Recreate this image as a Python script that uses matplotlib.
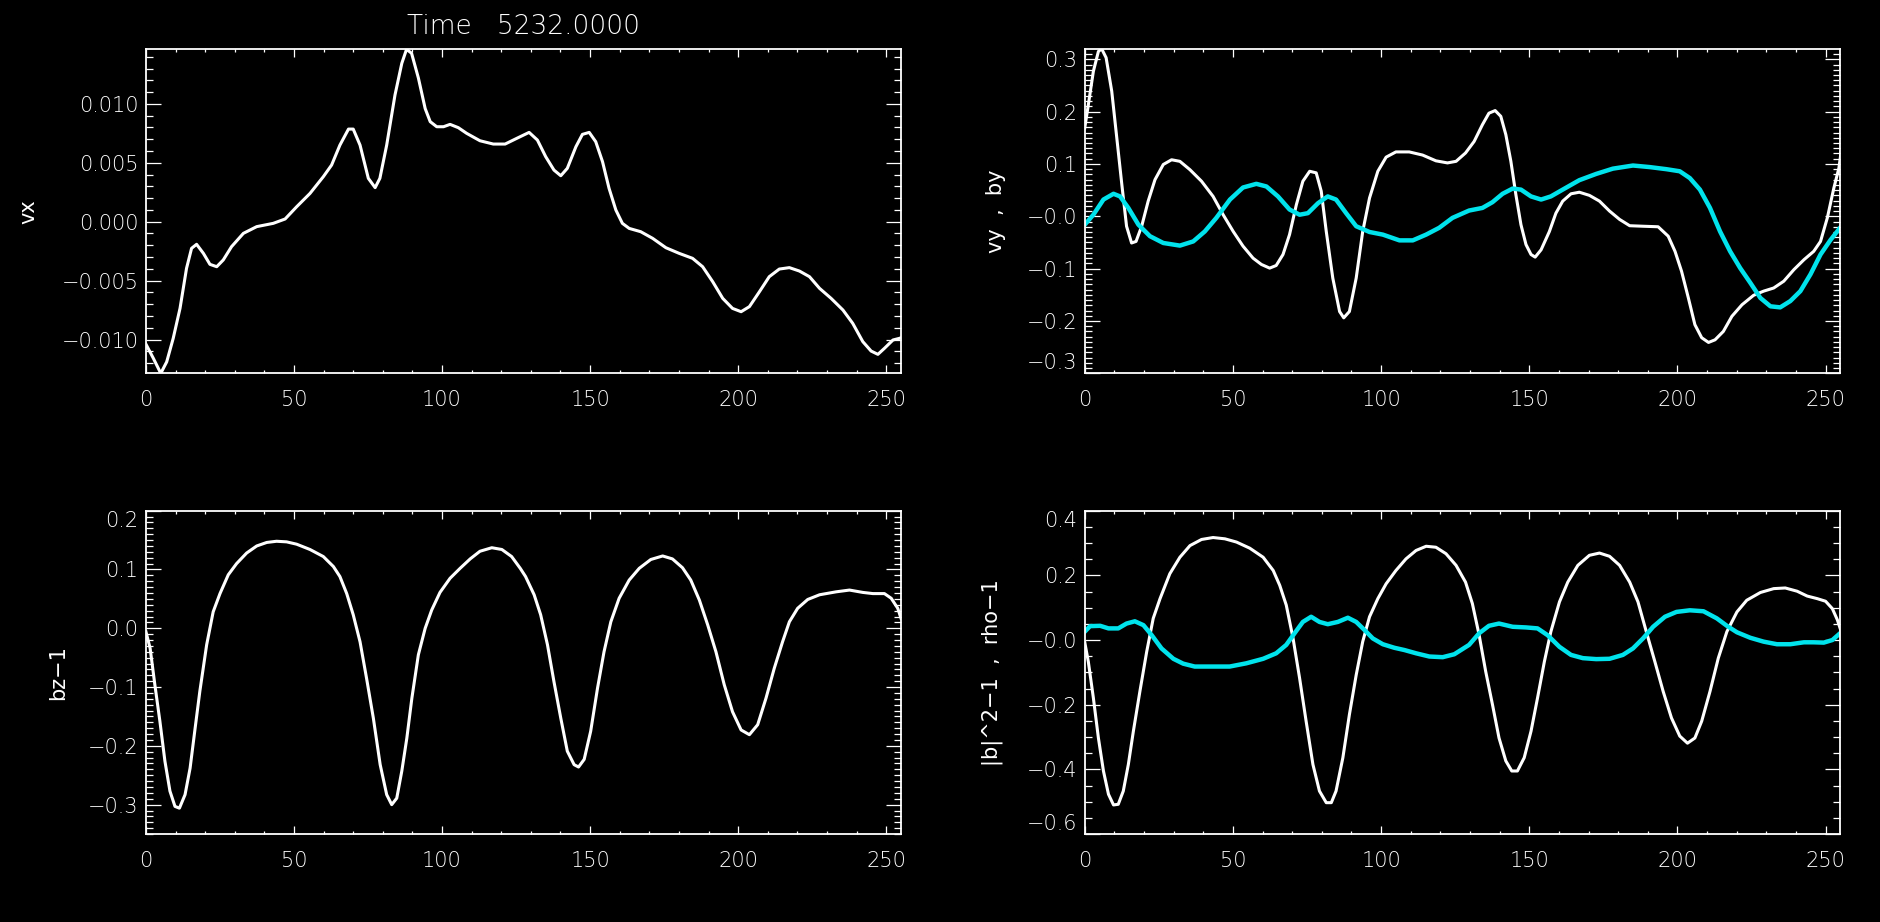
import numpy as np
import matplotlib
matplotlib.use("Agg")
import matplotlib.pyplot as plt
from matplotlib.ticker import MultipleLocator

# vx (top left), values in units of 1e-3
vx_x = [0, 2.5, 5, 7, 9.2, 11.5, 13.7, 15.4, 17.1, 19.4, 21.6, 23.9, 26.1, 28.9, 32.9, 37.4, 43, 47,
        50.9, 55.4, 59.9, 62.7, 65.5, 68.4, 70, 72.3, 75.1, 77.4, 79, 81.3, 84.1, 86.4, 88, 89.7, 92,
        94.3, 96, 98.2, 100.5, 102.7, 105.5, 108.3, 112.8, 117.3, 121.3, 125.2, 129.4, 132.2, 135,
        137.8, 140.1, 142.3, 145.2, 147.4, 149.7, 151.9, 154.2, 156.4, 158.7, 160.9, 163.2, 167.1,
        171.1, 175.6, 180.1, 184.6, 188, 191.4, 194.8, 198.1, 201, 203.8, 207.2, 210.5, 213.9, 217.3,
        220.7, 224.1, 227.5, 231.4, 235.4, 238.7, 242.1, 244.9, 247.2, 249.4, 252.3, 254.5, 255]
vx_y = [-10.4, -11.6, -12.87, -11.9, -9.9, -7.36, -3.96, -2.26, -1.92, -2.69, -3.62, -3.82, -3.25,
        -2.12, -0.99, -0.42, -0.14, 0.23, 1.27, 2.4, 3.82, 4.81, 6.5, 7.86, 7.86, 6.5, 3.68, 2.89,
        3.68, 6.5, 10.75, 13.44, 14.63, 14.3, 12.2, 9.6, 8.49, 8.06, 8.06, 8.26, 7.98, 7.5, 6.87,
        6.59, 6.59, 7.07, 7.58, 6.93, 5.52, 4.38, 3.9, 4.53, 6.36, 7.41, 7.58, 6.79, 5.09, 2.83,
        0.99, -0.14, -0.57, -0.85, -1.41, -2.21, -2.69, -3.11, -3.82, -5.09, -6.51, -7.36, -7.64,
        -7.21, -5.94, -4.67, -4.02, -3.9, -4.19, -4.67, -5.66, -6.51, -7.5, -8.63, -10.18, -10.98,
        -11.26, -10.75, -10.04, -9.9, -9.85]

# vy (top right, white)
vy_x = [0, 1.2, 2.9, 4.6, 5.7, 7.2, 9.1, 10.8, 12.5, 14.1, 15.8, 17.3, 19.2, 21.4, 23.7, 26.5, 29.3,
        32.1, 35.5, 39.4, 43.3, 46.7, 50.1, 53.4, 56.8, 59.6, 62.4, 64.6, 66.9, 69.1, 71.4, 73.6, 75.9,
        78.1, 79.8, 81.5, 83.7, 86, 87.4, 89.3, 91.6, 93.8, 96.1, 98.9, 101.7, 105, 109.5, 114, 118.5,
        122.4, 125.3, 128.5, 131.4, 134.2, 136.4, 138.5, 140.4, 142.1, 143.8, 145.5, 147.2, 148.9,
        150.6, 152, 154, 156.8, 159, 161.3, 164.1, 166.9, 170.3, 173.7, 177.1, 180.5, 183.9, 188.4,
        193.5, 196.9, 199.2, 201.4, 203.7, 205.9, 208.2, 210.5, 212.7, 215.5, 218.4, 221.8, 225.7,
        229.1, 232.5, 235.9, 239.3, 242.7, 246, 248.3, 250.6, 252.8, 254.5, 255.2]
vy_y = [0.169, 0.213, 0.277, 0.315, 0.32, 0.303, 0.239, 0.15, 0.061, -0.019, -0.051, -0.048, -0.019,
        0.029, 0.07, 0.099, 0.108, 0.105, 0.089, 0.067, 0.038, 0.003, -0.029, -0.057, -0.08, -0.092,
        -0.099, -0.094, -0.073, -0.035, 0.022, 0.067, 0.086, 0.083, 0.048, -0.029, -0.118, -0.182,
        -0.194, -0.182, -0.118, -0.029, 0.035, 0.086, 0.113, 0.123, 0.123, 0.117, 0.106, 0.102, 0.105,
        0.121, 0.143, 0.175, 0.197, 0.202, 0.191, 0.156, 0.105, 0.041, -0.016, -0.054, -0.073, -0.078,
        -0.064, -0.029, 0.006, 0.029, 0.043, 0.046, 0.04, 0.029, 0.01, -0.006, -0.018, -0.019, -0.02,
        -0.038, -0.067, -0.105, -0.156, -0.207, -0.232, -0.241, -0.236, -0.22, -0.191, -0.169, -0.151,
        -0.143, -0.137, -0.124, -0.102, -0.083, -0.067, -0.048, -0.003, 0.054, 0.092, 0.121]

# by (top right, cyan)
by_x = [0, 2.9, 6.3, 9.7, 11.9, 14.7, 18.1, 22, 26.5, 32.1, 36.6, 40.5, 44.4, 49, 53.4, 57.9, 61.3,
        65.2, 69.1, 72.5, 75.3, 78.7, 82, 84.8, 88.2, 91.6, 96.1, 100.6, 106.2, 110.7, 115.2, 119.6,
        124.1, 129.7, 134.2, 137.6, 141, 144.4, 147.2, 150.6, 154, 157.3, 161.3, 166.9, 172.6, 178.2,
        185, 190.7, 196.3, 200.8, 204.2, 207.6, 211, 214.4, 217.8, 221.2, 224.6, 228, 231.4, 234.7,
        238.1, 241.5, 244.9, 248.3, 251.7, 254.9]
by_y = [-0.016, 0.003, 0.032, 0.043, 0.038, 0.016, -0.016, -0.038, -0.051, -0.056, -0.048, -0.029,
        -0.003, 0.032, 0.055, 0.062, 0.057, 0.038, 0.013, 0.003, 0.006, 0.025, 0.038, 0.032, 0.006,
        -0.019, -0.03, -0.035, -0.046, -0.046, -0.035, -0.022, -0.003, 0.011, 0.016, 0.027, 0.043,
        0.053, 0.051, 0.038, 0.032, 0.038, 0.051, 0.069, 0.081, 0.091, 0.097, 0.094, 0.09, 0.086,
        0.073, 0.051, 0.016, -0.029, -0.067, -0.099, -0.127, -0.156, -0.172, -0.174, -0.162, -0.143,
        -0.111, -0.073, -0.045, -0.022]

# bz-1 (bottom left)
bz_x = [0, 1.4, 3, 4.7, 6.4, 8.1, 9.8, 11.3, 13.2, 14.9, 16.6, 18.2, 20.5, 22.7, 25, 27.8, 30.6, 34,
        37.4, 40.8, 44.1, 47.5, 50.9, 55.4, 59.9, 63.3, 65.5, 67.8, 70, 72.3, 74.5, 76.8, 79.1, 81.3,
        83, 84.7, 86.4, 88.1, 89.8, 92, 94.3, 96.5, 99.3, 102.7, 106.1, 109.5, 112.8, 116.8, 120.2,
        123.5, 126.4, 128.2, 131.1, 133.3, 135.6, 137.8, 140.1, 142.3, 144.6, 146.1, 148, 150.2, 152.5,
        154.7, 157, 159.8, 163.2, 166.6, 170.5, 174.5, 177.8, 181.2, 184, 186.9, 189.7, 192.5, 195.3,
        198.1, 201, 203.8, 206.6, 209.4, 212.2, 215, 217.3, 220.1, 223.5, 227.5, 233.1, 237.6, 242.1,
        245.5, 249.4, 251.7, 253.9, 255]
bz_y = [-0.006, -0.034, -0.096, -0.158, -0.226, -0.277, -0.303, -0.306, -0.283, -0.238, -0.17, -0.107,
        -0.028, 0.028, 0.059, 0.091, 0.11, 0.128, 0.14, 0.146, 0.148, 0.147, 0.143, 0.134, 0.122, 0.105,
        0.088, 0.059, 0.023, -0.023, -0.085, -0.153, -0.232, -0.283, -0.3, -0.289, -0.243, -0.187,
        -0.119, -0.045, 0.0, 0.031, 0.061, 0.085, 0.102, 0.118, 0.131, 0.137, 0.134, 0.122, 0.102,
        0.088, 0.057, 0.023, -0.028, -0.091, -0.153, -0.209, -0.232, -0.236, -0.223, -0.175, -0.102,
        -0.04, 0.011, 0.051, 0.082, 0.102, 0.117, 0.123, 0.118, 0.103, 0.082, 0.048, 0.006, -0.04,
        -0.096, -0.142, -0.173, -0.181, -0.164, -0.119, -0.068, -0.023, 0.011, 0.034, 0.049, 0.057,
        0.062, 0.065, 0.061, 0.059, 0.059, 0.051, 0.034, 0.017]

# |b|^2-1 (bottom right, white)
b2_x = [0, 1.2, 2.9, 4.6, 6.3, 8, 9.7, 11.3, 13, 14.7, 16.4, 18.6, 20.9, 23.1, 25.4, 28.7, 32.1, 35.5,
        39.4, 43.3, 47.3, 51.2, 55.7, 60.2, 63.6, 65.8, 68, 70.3, 72.5, 74.7, 77, 79.2, 81.5, 83.2, 84.8,
        87.1, 89.3, 91.6, 93.8, 96.1, 98.9, 101.7, 105, 108.4, 111.8, 115.2, 118.5, 121.9, 125.3, 128.5,
        130.8, 133.1, 135.3, 137.6, 139.8, 142.1, 144.1, 146, 148.3, 150.6, 152.8, 155.1, 157.3, 160.2,
        163, 166.4, 170.3, 173.7, 177.1, 180.5, 183.9, 186.7, 189.5, 192.4, 195.2, 198, 200.8, 203.4,
        205.9, 208.2, 211, 213.8, 216.7, 220.1, 223.4, 228, 232.5, 236.4, 240.4, 243.8, 247.2, 250,
        252.3, 254, 255.1]
b2_y = [-0.007, -0.067, -0.179, -0.303, -0.405, -0.477, -0.51, -0.508, -0.467, -0.385, -0.282, -0.159,
        -0.036, 0.067, 0.128, 0.205, 0.256, 0.292, 0.311, 0.317, 0.313, 0.303, 0.284, 0.256, 0.215,
        0.169, 0.108, 0.005, -0.118, -0.251, -0.385, -0.467, -0.503, -0.503, -0.467, -0.364, -0.231,
        -0.108, -0.005, 0.072, 0.128, 0.174, 0.215, 0.251, 0.277, 0.29, 0.287, 0.267, 0.231, 0.179,
        0.113, 0.015, -0.097, -0.2, -0.303, -0.374, -0.405, -0.405, -0.364, -0.282, -0.179, -0.067,
        0.026, 0.118, 0.179, 0.231, 0.262, 0.269, 0.259, 0.231, 0.179, 0.118, 0.026, -0.067, -0.159,
        -0.241, -0.297, -0.319, -0.303, -0.251, -0.159, -0.056, 0.026, 0.087, 0.123, 0.147, 0.159,
        0.161, 0.151, 0.136, 0.128, 0.12, 0.097, 0.062, 0.031]

# rho-1 (bottom right, cyan)
rho_x = [0, 1.8, 5.2, 8, 11.3, 14.1, 16.9, 19.8, 22.6, 25.9, 29.9, 33.2, 37.1, 43.3, 48.9, 54.5, 60.2,
         64.6, 68, 70.8, 73.6, 76.4, 79.2, 82, 85.4, 88.8, 91.6, 94.4, 97.2, 100.6, 104.5, 107.9, 111.8,
         116.3, 120.8, 124.7, 129.7, 133.1, 136.4, 139.8, 144.4, 148.9, 152.8, 156.2, 160.2, 164.1,
         168.1, 172.6, 177.1, 181.6, 185, 188.4, 191.8, 195.8, 199.7, 204.2, 208.8, 213.3, 216.7, 220.1,
         224.6, 229.1, 233.6, 238.1, 242.7, 246, 249.4, 252.3, 254.9]
rho_y = [0.026, 0.043, 0.044, 0.036, 0.036, 0.051, 0.058, 0.046, 0.015, -0.026, -0.058, -0.073, -0.082,
         -0.082, -0.082, -0.072, -0.058, -0.041, -0.015, 0.021, 0.056, 0.072, 0.056, 0.049, 0.056, 0.069,
         0.056, 0.031, 0.005, -0.013, -0.024, -0.031, -0.041, -0.051, -0.053, -0.044, -0.015, 0.021,
         0.044, 0.051, 0.041, 0.039, 0.036, 0.015, -0.021, -0.046, -0.056, -0.059, -0.058, -0.046,
         -0.026, 0.005, 0.041, 0.072, 0.087, 0.092, 0.089, 0.067, 0.044, 0.024, 0.007, -0.005, -0.013,
         -0.013, -0.007, -0.007, -0.008, 0.0, 0.021]

vx_ticks = [0.010, 0.005, 0.0, -0.005, -0.010]
vx_labels = ["0.010", "0.005", "0.000", "\u22120.005", "\u22120.010"]
vy_ticks = [0.3, 0.2, 0.1, 0.0, -0.1, -0.2, -0.3]
vy_labels = ["0.3", "0.2", "0.1", "\u22120.0", "\u22120.1", "\u22120.2", "\u22120.3"]
bz_ticks = [0.2, 0.1, 0.0, -0.1, -0.2, -0.3]
bz_labels = ["0.2", "0.1", "0.0", "\u22120.1", "\u22120.2", "\u22120.3"]
b2_ticks = [0.4, 0.2, 0.0, -0.2, -0.4, -0.6]
b2_labels = ["0.4", "0.2", "\u22120.0", "\u22120.2", "\u22120.4", "\u22120.6"]

title = "Time   5232.0000"
CYAN = "#00e3ec"

plt.rcParams["font.family"] = ["DejaVu Sans"]
plt.rcParams["font.weight"] = "light"

fig = plt.figure(figsize=(18.81, 9.22), dpi=100, facecolor="black")


def setup_axes(rect, ylim, yticks, ylabels, yminor, ylabel, label_x):
    ax = fig.add_axes(rect, facecolor="black")
    ax.set_xlim(0, 255)
    ax.set_ylim(*ylim)
    for s in ax.spines.values():
        s.set_color("white")
        s.set_linewidth(1.3)
    ax.xaxis.set_major_locator(MultipleLocator(50))
    ax.xaxis.set_minor_locator(MultipleLocator(10))
    ax.set_yticks(yticks)
    ax.set_yticklabels(ylabels)
    ax.yaxis.set_minor_locator(MultipleLocator(yminor))
    ax.tick_params(which="both", direction="in", top=True, right=True, colors="white",
                   width=0.9, labelsize=15)
    ax.tick_params(axis="x", which="major", length=5.5, pad=12)
    ax.tick_params(axis="x", which="minor", length=2.5)
    ax.tick_params(axis="y", which="major", length=11, pad=5.5)
    ax.tick_params(axis="y", which="minor", length=5.3)
    # labels sitting on the frame edge are pushed inside, like the original
    span = ylim[1] - ylim[0]
    for t, lab in zip(yticks, ax.get_yticklabels()):
        if abs(t - ylim[1]) < 0.02 * span:
            lab.set_va("top")
        elif abs(t - ylim[0]) < 0.02 * span:
            lab.set_va("bottom")
    ax.set_ylabel(ylabel, color="white", fontsize=15)
    ax.yaxis.set_label_coords(label_x, 0.5)
    return ax


# top left: vx
ax1 = setup_axes([0.0776, 0.5951, 0.4014, 0.3514], (min(vx_y) * 1e-3, max(vx_y) * 1e-3),
                 vx_ticks, vx_labels, 0.001, "vx", -0.142)
ax1.plot(vx_x, np.array(vx_y) * 1e-3, color="white", lw=2.2)

# top right: vy, by
ax2 = setup_axes([0.5767, 0.5951, 0.4017, 0.3514], (-0.30, 0.319),
                 vy_ticks, vy_labels, 0.01, "vy  ,  by", -0.104)
ax2.plot(vy_x, vy_y, color="white", lw=2.2)
ax2.plot(by_x, by_y, color=CYAN, lw=3.2)

# bottom left: bz-1
ax3 = setup_axes([0.0776, 0.0954, 0.4014, 0.3507], (-0.35, 0.2),
                 bz_ticks, bz_labels, 0.01, "bz\u22121", -0.103)
ax3.plot(bz_x, bz_y, color="white", lw=2.2)

# bottom right: |b|^2-1, rho-1
ax4 = setup_axes([0.5767, 0.0954, 0.4017, 0.3507], (-0.6, 0.4),
                 b2_ticks, b2_labels, 0.05, "|b|^2\u22121  ,  rho\u22121", -0.108)
ax4.plot(b2_x, b2_y, color="white", lw=2.2)
ax4.plot(rho_x, rho_y, color=CYAN, lw=3.2)

fig.text(524 / 1881, 1 - 27 / 922, title, color="white", fontsize=19, ha="center", va="center")

fig.savefig("out.png", dpi=100, facecolor="black")
